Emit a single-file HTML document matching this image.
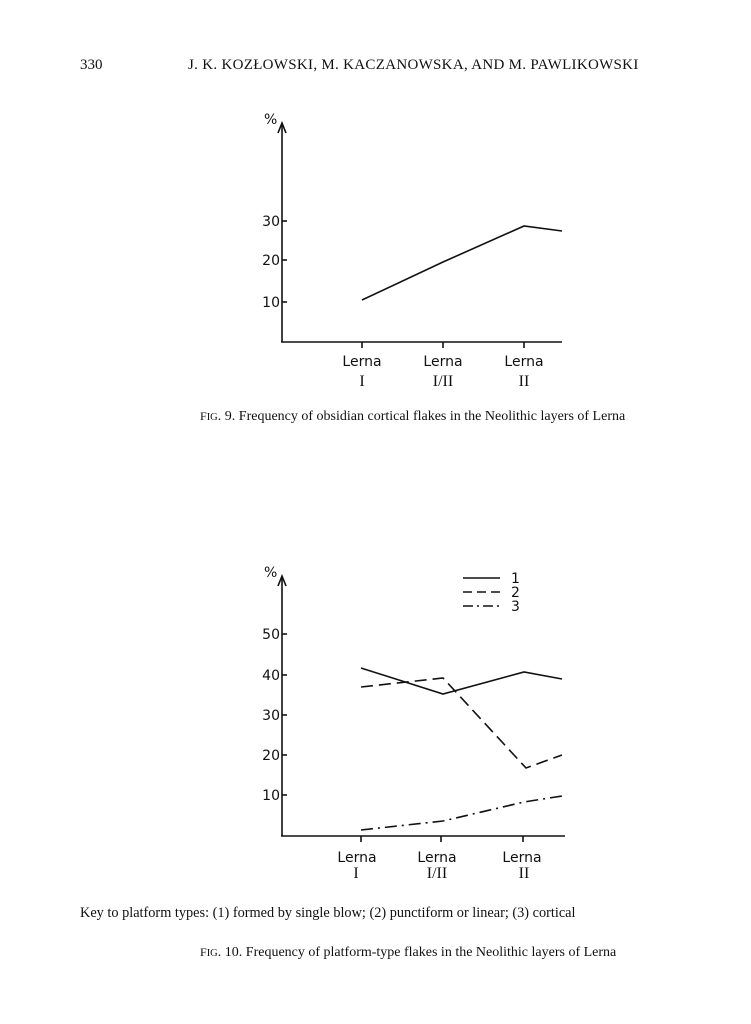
<!DOCTYPE html>
<html><head><meta charset="utf-8"><style>
html,body{margin:0;padding:0;background:#fff}
body{width:751px;height:1024px;position:relative;font-family:"Liberation Serif",serif;color:#111}
.t{position:absolute;white-space:nowrap}
</style></head><body>
<div class="t" style="left:80px;top:57px;font-size:15px">330</div>
<div class="t" style="left:188px;top:57px;font-size:15px;letter-spacing:0.3px">J. K. KOZŁOWSKI, M. KACZANOWSKA, AND M. PAWLIKOWSKI</div>
<div class="t" style="left:200px;top:409px;font-size:14px"><span style="font-size:12px">F</span><span style="font-size:10.5px">IG</span>. 9. Frequency of obsidian cortical flakes in the Neolithic layers of Lerna</div>
<div class="t" style="left:80px;top:905px;font-size:14.3px">Key to platform types: (1) formed by single blow; (2) punctiform or linear; (3) cortical</div>
<div class="t" style="left:200px;top:945px;font-size:14px"><span style="font-size:12px">F</span><span style="font-size:10.5px">IG</span>. 10. Frequency of platform-type flakes in the Neolithic layers of Lerna</div>
<svg width="751" height="1024" style="position:absolute;left:0;top:0" font-family="DejaVu Sans, sans-serif" fill="none" stroke="#111">
<g stroke-width="1.6">
<line x1="282" y1="125" x2="282" y2="342"/><polyline points="278,133 282,123 286,133"/>
<line x1="281" y1="342" x2="562" y2="342"/>
<line x1="282" y1="221" x2="287" y2="221"/><line x1="282" y1="260" x2="287" y2="260"/><line x1="282" y1="302" x2="287" y2="302"/>
<line x1="362" y1="342" x2="362" y2="348"/><line x1="443" y1="342" x2="443" y2="348"/><line x1="524" y1="342" x2="524" y2="348"/>
<polyline points="362,300 443,262 524,226 562,231"/>
</g>
<g fill="#111" stroke="none" font-size="14">
<text x="264" y="124">%</text>
<text x="280" y="226" text-anchor="end">30</text><text x="280" y="265" text-anchor="end">20</text><text x="280" y="307" text-anchor="end">10</text>
<text x="362" y="366" text-anchor="middle">Lerna</text><text x="443" y="366" text-anchor="middle">Lerna</text><text x="524" y="366" text-anchor="middle">Lerna</text>
<text x="362" y="386" text-anchor="middle" font-family="Liberation Serif,serif" font-size="16">I</text>
<text x="443" y="386" text-anchor="middle" font-family="Liberation Serif,serif" font-size="16">I/II</text>
<text x="524" y="386" text-anchor="middle" font-family="Liberation Serif,serif" font-size="16">II</text>
</g>
<g stroke-width="1.6">
<line x1="282" y1="578" x2="282" y2="836"/><polyline points="278,586 282,576 286,586"/>
<line x1="281" y1="836" x2="565" y2="836"/>
<line x1="282" y1="634" x2="287" y2="634"/><line x1="282" y1="675" x2="287" y2="675"/><line x1="282" y1="715" x2="287" y2="715"/><line x1="282" y1="755" x2="287" y2="755"/><line x1="282" y1="795" x2="287" y2="795"/>
<line x1="361" y1="836" x2="361" y2="842"/><line x1="441" y1="836" x2="441" y2="842"/><line x1="523" y1="836" x2="523" y2="842"/>
<polyline points="361,668 443,694 524,672 562,679"/>
<polyline points="361,687 443,678 526,768 562,755" stroke-dasharray="12,6"/>
<polyline points="361,830 443,821 524,802 562,796" stroke-dasharray="12,5,2,5"/>
<line x1="463" y1="578" x2="500" y2="578"/>
<line x1="463" y1="592" x2="500" y2="592" stroke-dasharray="9,5"/>
<line x1="463" y1="606" x2="500" y2="606" stroke-dasharray="10,4,2,4"/>
</g>
<g fill="#111" stroke="none" font-size="14">
<text x="264" y="577">%</text>
<text x="511" y="583">1</text><text x="511" y="597">2</text><text x="511" y="611">3</text>
<text x="280" y="639" text-anchor="end">50</text><text x="280" y="680" text-anchor="end">40</text><text x="280" y="720" text-anchor="end">30</text><text x="280" y="760" text-anchor="end">20</text><text x="280" y="800" text-anchor="end">10</text>
<text x="357" y="862" text-anchor="middle">Lerna</text><text x="437" y="862" text-anchor="middle">Lerna</text><text x="522" y="862" text-anchor="middle">Lerna</text>
<text x="356" y="878" text-anchor="middle" font-family="Liberation Serif,serif" font-size="16">I</text>
<text x="437" y="878" text-anchor="middle" font-family="Liberation Serif,serif" font-size="16">I/II</text>
<text x="524" y="878" text-anchor="middle" font-family="Liberation Serif,serif" font-size="16">II</text>
</g>
</svg>
</body></html>
